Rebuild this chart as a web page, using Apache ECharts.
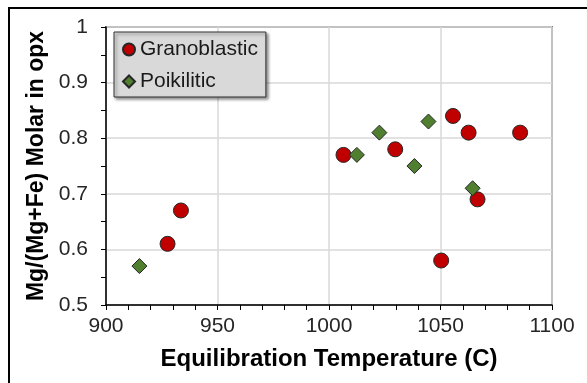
<!DOCTYPE html>
<html>
<head>
<meta charset="utf-8">
<script src="https://cdn.jsdelivr.net/npm/echarts@6/dist/echarts.min.js"></script>
<style>
  html, body { margin: 0; padding: 0; background: #fff; }
  #chart { width: 587px; height: 383px; }
</style>
</head>
<body>
<div id="chart"></div>
<script>
// temperature (C), Mg/(Mg+Fe)
const granoTemp = [927.6, 933.6, 1006.5, 1029.7, 1050.3, 1055.6, 1062.6, 1066.6, 1085.7];
const granoMg = [0.61, 0.67, 0.77, 0.78, 0.58, 0.84, 0.81, 0.69, 0.81];
const poikTemp = [915, 1012.5, 1022.6, 1038.3, 1044.6, 1064.4];
const poikMg = [0.57, 0.77, 0.81, 0.75, 0.83, 0.71];

const pairs = (xs, ys) => xs.map((x, i) => [x, ys[i]]);

const font = 'Arial, "Liberation Sans", sans-serif';

const chart = echarts.init(document.getElementById('chart'));

chart.setOption({
    animation: false,
    graphic: [
        {
            type: 'rect',
            shape: { x: 9, y: 8, width: 700, height: 500 },
            style: { fill: 'none', stroke: '#000', lineWidth: 2 },
            z: -1
        }
    ],
    grid: {
        left: 106,
        right: 35,
        top: 27,
        bottom: 78,
        show: true,
        borderColor: '#7f7f7f',
        borderWidth: 2
    },
    legend: {
        orient: 'vertical',
        left: 114,
        top: 32,
        padding: [7, 8, 5, 8],
        itemGap: 11,
        itemWidth: 12,
        itemHeight: 12,
        backgroundColor: '#d9d9d9',
        borderColor: '#333',
        borderWidth: 1,
        shadowColor: 'rgba(0,0,0,0.45)',
        shadowBlur: 3,
        shadowOffsetX: 2,
        shadowOffsetY: 2,
        textStyle: { fontFamily: font, fontSize: 21, color: '#1a1a1a' },
        data: [
            { name: 'Granoblastic', icon: 'circle' },
            { name: 'Poikilitic', icon: 'diamond' }
        ]
    },
    xAxis: {
        type: 'value',
        min: 900,
        max: 1100,
        interval: 50,
        name: 'Equilibration Temperature (C)',
        nameLocation: 'middle',
        nameGap: 42,
        nameTextStyle: { fontFamily: font, fontSize: 24, fontWeight: 'bold', color: '#000' },
        axisLine: { lineStyle: { color: '#000', width: 1.5 } },
        axisTick: { inside: false, length: 5, lineStyle: { color: '#000' } },
        minorTick: { show: true, splitNumber: 5, length: 5, lineStyle: { color: '#000' } },
        axisLabel: {
            fontFamily: font, fontSize: 21, color: '#262626', margin: 11,
            formatter: v => String(v)
        },
        splitLine: { show: true, lineStyle: { color: '#d9d9d9', width: 1.5 } }
    },
    yAxis: {
        type: 'value',
        min: 0.5,
        max: 1,
        interval: 0.1,
        name: 'Mg/(Mg+Fe) Molar in opx',
        nameLocation: 'middle',
        nameGap: 55,
        nameTextStyle: { fontFamily: font, fontSize: 23, fontWeight: 'bold', color: '#000' },
        axisLine: { show: true, lineStyle: { color: '#000', width: 1.5 } },
        axisTick: { show: true, inside: false, length: 5, lineStyle: { color: '#000' } },
        minorTick: { show: true, splitNumber: 2, length: 5, lineStyle: { color: '#000' } },
        axisLabel: {
            fontFamily: font, fontSize: 21, color: '#262626', margin: 18,
            formatter: v => (v === 1 ? '1' : v.toFixed(1))
        },
        splitLine: { show: true, lineStyle: { color: '#d9d9d9', width: 1.5 } }
    },
    series: [
        {
            name: 'Granoblastic',
            type: 'scatter',
            symbol: 'circle',
            symbolSize: 15,
            data: pairs(granoTemp, granoMg),
            itemStyle: { color: '#c00000', borderColor: '#262626', borderWidth: 1, opacity: 1 }
        },
        {
            name: 'Poikilitic',
            type: 'scatter',
            symbol: 'diamond',
            symbolSize: 15,
            data: pairs(poikTemp, poikMg),
            itemStyle: { color: '#4f7f2f', borderColor: '#262626', borderWidth: 1, opacity: 1 }
        }
    ]
});
</script>
</body>
</html>
